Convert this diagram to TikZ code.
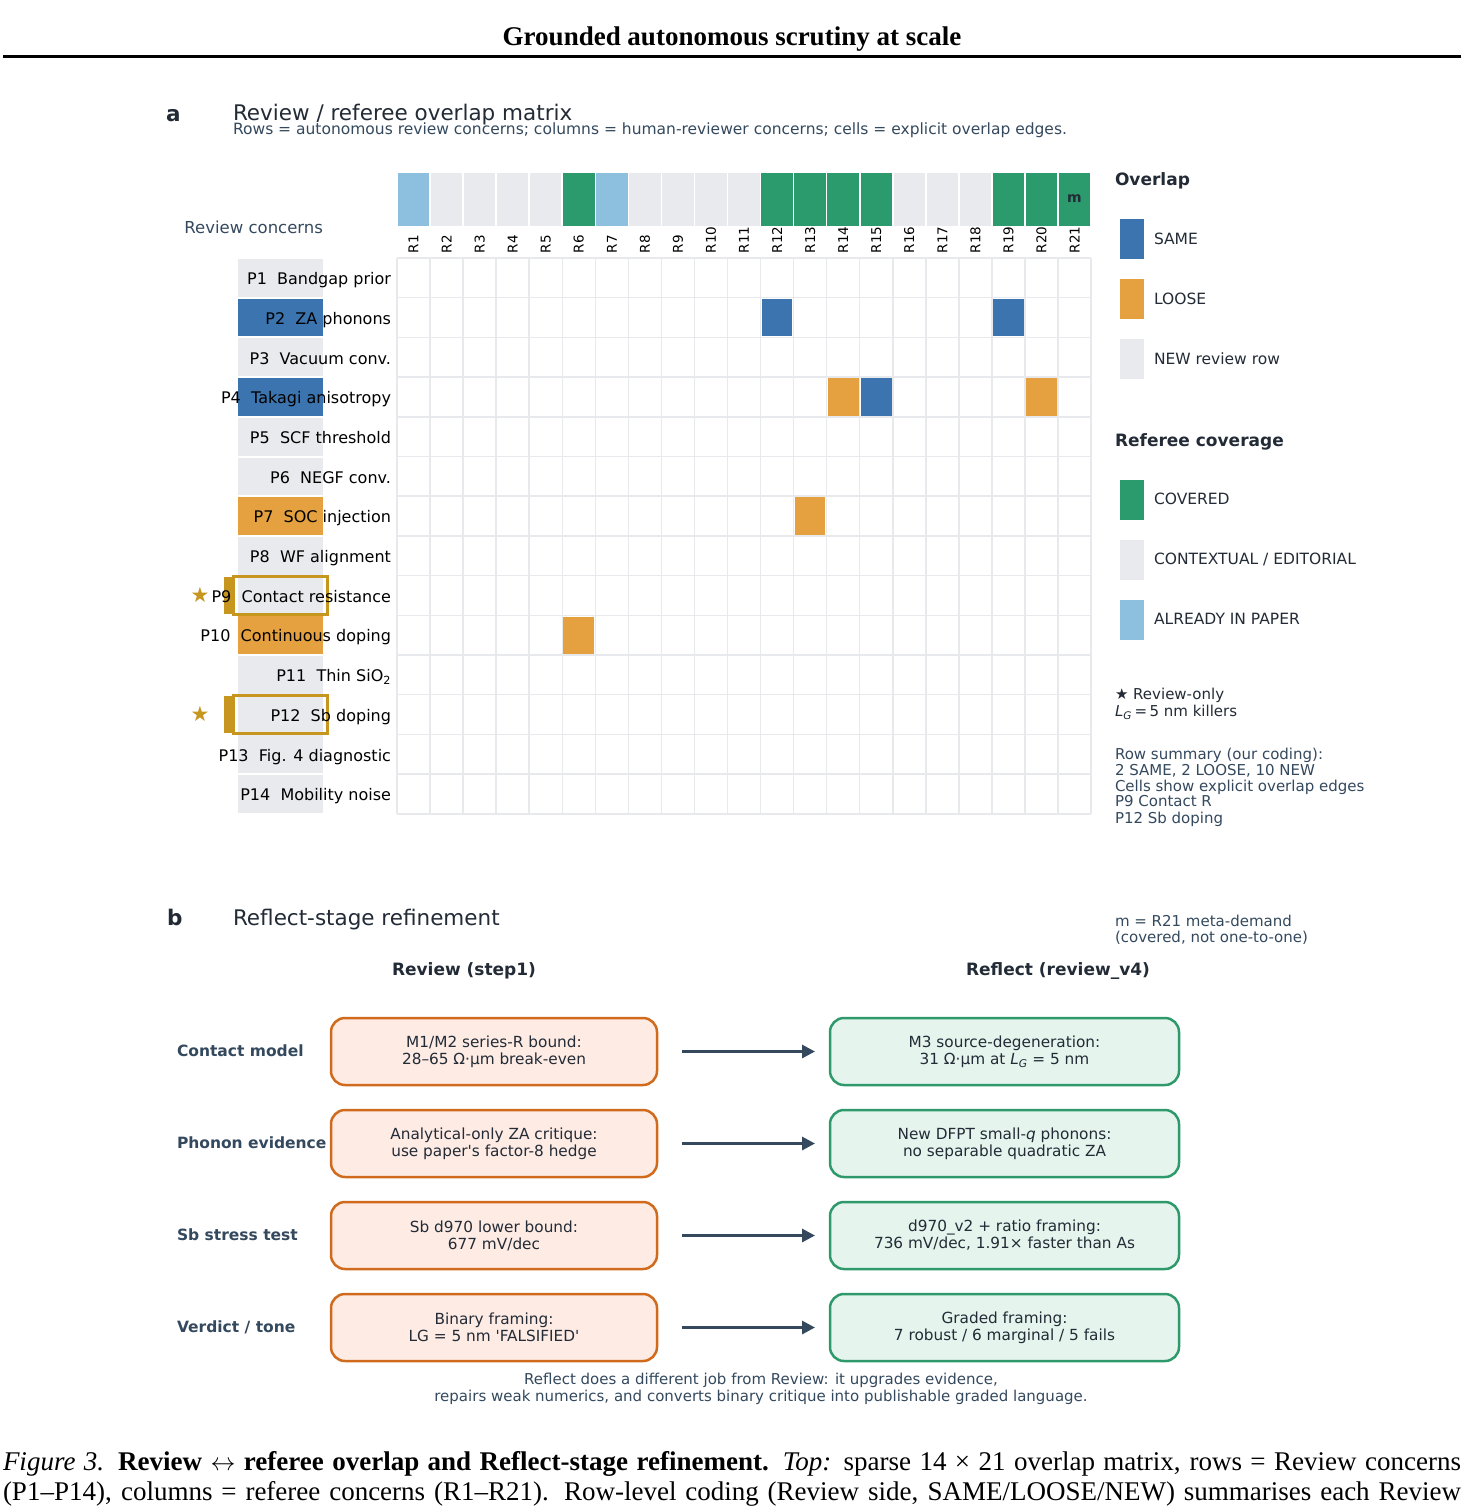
\documentclass[tikz,border=0pt]{standalone}
\usepackage{fontspec}
\setmainfont{Liberation Serif}
\newfontfamily\dv{DejaVu Sans}
\usetikzlibrary{arrows.meta}
\definecolor{cSame}{HTML}{3B74AE}
\definecolor{cLoose}{HTML}{E5A03F}
\definecolor{cNew}{HTML}{E8EAED}
\definecolor{cCov}{HTML}{2B9B6E}
\definecolor{cPaper}{HTML}{8DBFDF}
\definecolor{cGrid}{HTML}{E7E9EC}
\definecolor{cGold}{HTML}{C6961F}
\definecolor{cSlate}{HTML}{34495E}
\definecolor{cDark}{HTML}{222B36}
\definecolor{cOrStroke}{HTML}{D06A1C}
\definecolor{cOrFill}{HTML}{FDEBE4}
\definecolor{cGrStroke}{HTML}{2E9A6C}
\definecolor{cGrFill}{HTML}{E5F4EC}
\newcommand\dsp{\hspace{0.64em}}
\newcommand\LG{{\itshape L}\textsubscript{\itshape G}}
\begin{document}
\begin{tikzpicture}[x=1pt,y=-1pt,
  every node/.style={inner sep=0pt,outer sep=0pt},
  rowlbl/.style={font=\dv\fontsize{16}{19}\selectfont,text=black,anchor=base east},
  collbl/.style={font=\dv\fontsize{13.5}{16}\selectfont,text=black,rotate=90,anchor=west},
  leghead/.style={font=\dv\bfseries\fontsize{17}{20}\selectfont,text=cDark,anchor=base west},
  leglbl/.style={font=\dv\fontsize{15.5}{18}\selectfont,text=cDark,anchor=base west},
  note/.style={font=\dv\fontsize{15}{17}\selectfont,text=cSlate,anchor=base west},
  ptitle/.style={font=\dv\fontsize{21.5}{25}\selectfont,text=cDark,anchor=base west},
  plabel/.style={font=\dv\bfseries\fontsize{21.5}{25}\selectfont,text=cDark,anchor=base west},
  colhead/.style={font=\dv\bfseries\fontsize{17}{20}\selectfont,text=cDark,anchor=base},
  rowhead/.style={font=\dv\bfseries\fontsize{15.5}{18}\selectfont,text=cSlate,anchor=base west},
  boxbase/.style={line width=2.5pt,rounded corners=14pt,minimum height=67pt,align=center,font=\dv\fontsize{15.3}{17}\selectfont,text=cDark},
  lbox/.style={boxbase,draw=cOrStroke,fill=cOrFill,minimum width=326pt},
  rbox/.style={boxbase,draw=cGrStroke,fill=cGrFill,minimum width=349pt},
  arr/.style={draw=cSlate,line width=3pt,-{Triangle[length=13pt,width=13pt]}},
  gridl/.style={draw=cGrid,line width=1.5pt}
]
\useasboundingbox (0,0) rectangle (1464,1512);
\fill[white] (0,0) rectangle (1464,1512);

% ---- title
\node[font=\bfseries\fontsize{27}{32}\selectfont,anchor=base] (title) at (732,46) {Grounded autonomous scrutiny at scale};
\draw[line width=3pt] (3,56.5) -- (1461,56.5);

% ---- panel a
\node[plabel] (pa) at (166,121) {a};
\node[ptitle] (ta) at (233,120) {Review / referee overlap matrix};
\node[note,font=\dv\fontsize{15.5}{17}\selectfont] (sa) at (233,134) {Rows = autonomous review concerns; columns = human-reviewer concerns; cells = explicit overlap edges.};
\node[font=\dv\fontsize{16.5}{19}\selectfont,text=cSlate,anchor=base east] (rc) at (323,233) {Review concerns};

% header strip
\foreach \c/\col in {1/cPaper,2/cNew,3/cNew,4/cNew,5/cNew,6/cCov,7/cPaper,8/cNew,9/cNew,10/cNew,11/cNew,12/cCov,13/cCov,14/cCov,15/cCov,16/cNew,17/cNew,18/cNew,19/cCov,20/cCov,21/cCov}{
  \fill[\col] ({397+(\c-1)*33.05+0.8},173) rectangle ({397+\c*33.05-0.8},226);
  \node[collbl] (cl\c) at ({397+(\c-0.5)*33.05},253) {R\c};
}
\node[font=\dv\bfseries\fontsize{14}{16}\selectfont,text=cDark] (mm) at ({397+20.5*33.05},199) {m};

% grid
\foreach \c in {0,...,21}
  \draw[gridl] ({397+\c*33.05},258) -- ({397+\c*33.05},813.8);
\foreach \r in {0,...,14}
  \draw[gridl] (397,{258+\r*39.7}) -- (1091,{258+\r*39.7});

% overlap cells
\foreach \c/\r/\col in {12/2/cSame,19/2/cSame,14/4/cLoose,15/4/cSame,20/4/cLoose,13/7/cLoose,6/10/cLoose}
  \fill[\col] ({397+(\c-1)*33.05+1.2},{258+(\r-1)*39.7+1.2}) rectangle ({397+\c*33.05-1.2},{258+\r*39.7-1.2});

% row label boxes
\foreach \r/\col in {1/cNew,2/cSame,3/cNew,4/cSame,5/cNew,6/cNew,7/cLoose,8/cNew,9/cNew,10/cLoose,11/cNew,12/cNew,13/cNew,14/cNew}
  \fill[\col] (238,{258+(\r-1)*39.7+1}) rectangle (323,{258+\r*39.7-1});

% review-only highlights
\foreach \r in {9,12}{
  \fill[cGold] (223.5,{258+(\r-1)*39.7+1.7}) rectangle (232,{258+\r*39.7-1});
  \draw[cGold,line width=3.2pt] (233.5,{258+(\r-1)*39.7+1.1}) rectangle (327.5,{258+\r*39.7-1});
  \node[text=cGold,font=\dv\fontsize{21}{21}\selectfont] (st\r) at (200,{258+(\r-0.5)*39.7-1}) {★};
}

% row labels
\foreach \r/\t in {1/{P1\dsp Bandgap prior},2/{P2\dsp ZA phonons},3/{P3\dsp Vacuum conv.},4/{P4\dsp Takagi anisotropy},5/{P5\dsp SCF threshold},6/{P6\dsp NEGF conv.},7/{P7\dsp SOC injection},8/{P8\dsp WF alignment},9/{P9\dsp Contact resistance},10/{P10\dsp Continuous doping},11/{P11\dsp Thin SiO\textsubscript{2}},12/{P12\dsp Sb doping},13/{P13\dsp Fig. 4 diagnostic},14/{P14\dsp Mobility noise}}
  \node[rowlbl] (p\r) at (391,{258+(\r-0.5)*39.7+6.8}) {\t};

% legend
\node[leghead] (lh1) at (1115,185) {Overlap};
\fill[cSame] (1119.5,219) rectangle (1143.5,259);
\node[leglbl] (ll1) at (1154,244) {SAME};
\fill[cLoose] (1119.5,279) rectangle (1143.5,319);
\node[leglbl] (ll2) at (1154,304) {LOOSE};
\fill[cNew] (1119.5,339) rectangle (1143.5,379);
\node[leglbl] (ll3) at (1154,364) {NEW review row};
\node[leghead] (lh2) at (1115,446) {Referee coverage};
\fill[cCov] (1119.5,479.5) rectangle (1143.5,519.5);
\node[leglbl] (ll4) at (1154,504) {COVERED};
\fill[cNew] (1119.5,540) rectangle (1143.5,580);
\node[leglbl] (ll5) at (1154,564) {CONTEXTUAL / EDITORIAL};
\fill[cPaper] (1119.5,600) rectangle (1143.5,640);
\node[leglbl] (ll6) at (1154,624.5) {ALREADY IN PAPER};

% notes
\node[note,text=cDark] (n1) at (1115,699) {★ Review-only};
\node[note,text=cDark] (n2) at (1115,716.5) {\LG\,=\,5 nm killers};
\node[note] (n3) at (1115,759) {Row summary (our coding):};
\node[note] (n4) at (1115,775) {2 SAME, 2 LOOSE, 10 NEW};
\node[note] (n5) at (1115,791) {Cells show explicit overlap edges};
\node[note] (n6) at (1115,806.5) {P9 Contact R};
\node[note] (n7) at (1115,823) {P12 Sb doping};
\node[note] (n8) at (1115,926) {m = R21 meta-demand};
\node[note] (n9) at (1115,942.5) {(covered, not one-to-one)};

% ---- panel b
\node[plabel] (pb) at (167,925) {b};
\node[ptitle] (tb) at (233,925) {Reflect-stage refinement};
\node[colhead] (ch1) at (464,975) {Review (step1)};
\node[colhead] (ch2) at (1058,975) {Reflect (review\_v4)};

\node[rowhead] (h1) at (177,1056) {Contact model};
\node[lbox] (l1) at (494,1051.5) {M1/M2 series-R bound:\\28–65 Ω·μm break-even};
\node[rbox] (r1) at (1004.5,1051.5) {M3 source-degeneration:\\31 Ω·μm at \LG{} = 5 nm};
\draw[arr] ([xshift=25pt]l1.east) -- ([xshift=-15pt]r1.west);

\node[rowhead] (h2) at (177,1148) {Phonon evidence};
\node[lbox] (l2) at (494,1143.5) {Analytical-only ZA critique:\\use paper's factor-8 hedge};
\node[rbox] (r2) at (1004.5,1143.5) {New DFPT small-{\itshape q} phonons:\\no separable quadratic ZA};
\draw[arr] ([xshift=25pt]l2.east) -- ([xshift=-15pt]r2.west);

\node[rowhead] (h3) at (177,1240) {Sb stress test};
\node[lbox] (l3) at (494,1235.5) {Sb d970 lower bound:\\677 mV/dec};
\node[rbox] (r3) at (1004.5,1235.5) {d970\_v2 + ratio framing:\\736 mV/dec, 1.91× faster than As};
\draw[arr] ([xshift=25pt]l3.east) -- ([xshift=-15pt]r3.west);

\node[rowhead] (h4) at (177,1332) {Verdict / tone};
\node[lbox] (l4) at (494,1327.5) {Binary framing:\\LG = 5 nm 'FALSIFIED'};
\node[rbox] (r4) at (1004.5,1327.5) {Graded framing:\\7 robust / 6 marginal / 5 fails};
\draw[arr] ([xshift=25pt]l4.east) -- ([xshift=-15pt]r4.west);

\node[note,anchor=base] (bn1) at (761,1384) {Reflect does a different job from Review: it upgrades evidence,};
\node[note,anchor=base] (bn2) at (761,1401) {repairs weak numerics, and converts binary critique into publishable graded language.};

% ---- caption
\node[anchor=base west,font=\fontsize{27}{31}\selectfont] (cap1) at (3,1470) {\makebox[1458pt][s]{\textit{Figure 3.} \textbf{Review $\leftrightarrow$ referee overlap and Reflect-stage refinement.} \textit{Top:} sparse 14 × 21 overlap matrix, rows = Review concerns}};
\node[anchor=base west,font=\fontsize{27}{31}\selectfont] (cap2) at (3,1500) {\makebox[1458pt][s]{(P1–P14), columns = referee concerns (R1–R21). Row-level coding (Review side, SAME/LOOSE/NEW) summarises each Review}};
\end{tikzpicture}
\end{document}
